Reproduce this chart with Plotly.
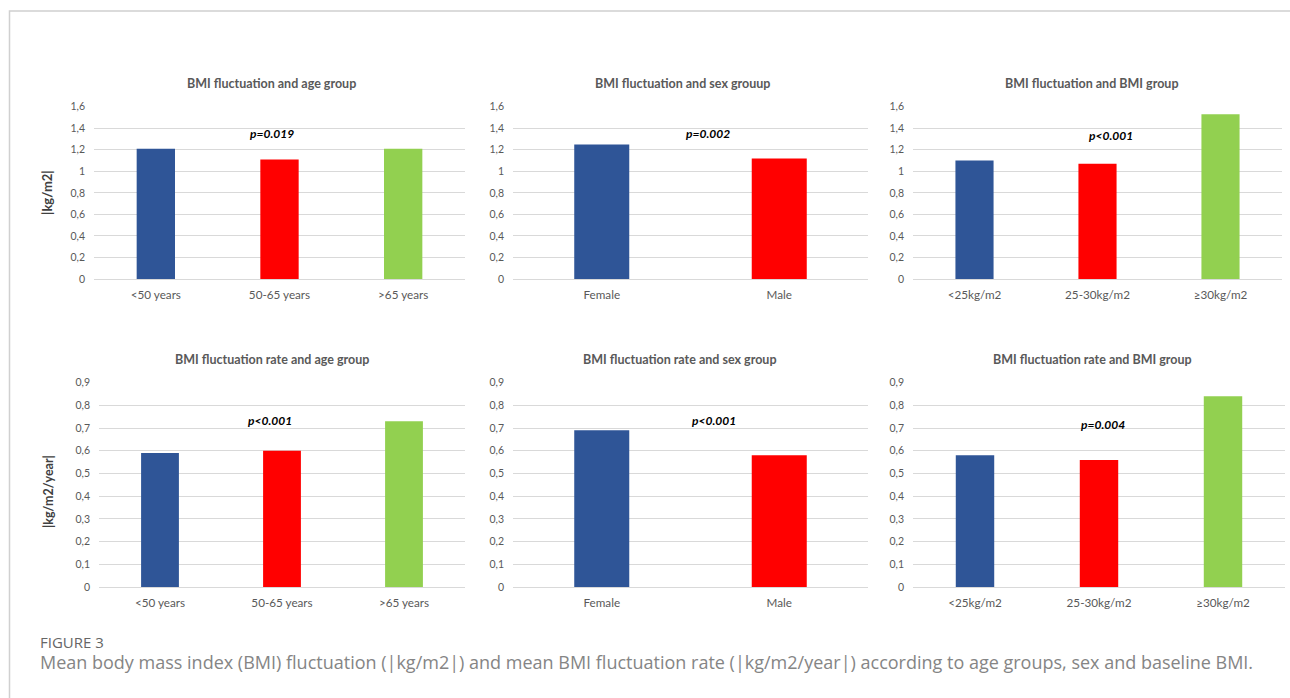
import plotly.graph_objects as go

# ---- data ----
age_groups = ["<50 years", "50-65 years", ">65 years"]
sex_groups = ["Female", "Male"]
bmi_groups = ["<25kg/m2", "25-30kg/m2", "≥30kg/m2"]

fluct_age = [1.21, 1.11, 1.21]
fluct_sex = [1.25, 1.12]
fluct_bmi = [1.10, 1.07, 1.53]
rate_age = [0.59, 0.60, 0.73]
rate_sex = [0.69, 0.58]
rate_bmi = [0.58, 0.56, 0.84]

fluct_ticks = [0, 0.2, 0.4, 0.6, 0.8, 1.0, 1.2, 1.4, 1.6]
fluct_ticktext = ["0", "0,2", "0,4", "0,6", "0,8", "1", "1,2", "1,4", "1,6"]
rate_ticks = [0, 0.1, 0.2, 0.3, 0.4, 0.5, 0.6, 0.7, 0.8, 0.9]
rate_ticktext = ["0", "0,1", "0,2", "0,3", "0,4", "0,5", "0,6", "0,7", "0,8", "0,9"]

titles = ["BMI fluctuation and age group", "BMI fluctuation and sex grouup",
          "BMI fluctuation and BMI group", "BMI fluctuation rate and age group",
          "BMI fluctuation rate and sex group", "BMI fluctuation rate and BMI group"]
p_values = ["p=0.019", "p=0.002", "p<0.001", "p<0.001", "p<0.001", "p=0.004"]
y_titles = ["|kg/m2|", "|kg/m2/year|"]
caption_label = "FIGURE 3"
caption_text = ("Mean body mass index (BMI) fluctuation (|kg/m2|) and mean BMI fluctuation rate "
                "(|kg/m2/year|) according to age groups, sex and baseline BMI.")

# ---- styling ----
W, H = 1290, 698
BLUE, RED, GREEN = "#2F5597", "#FF0000", "#92D050"
GRID = "#D9D9D9"
TXT = "#595959"
FONT = "Lato, Open Sans, sans-serif"

def px(x):
    return x / W

def py(y):
    return 1 - y / H

panels = [
    # cats, values, colors, x-domain(px), row
    (age_groups, fluct_age, [BLUE, RED, GREEN], (94, 465), 0),
    (sex_groups, fluct_sex, [BLUE, RED], (513, 868), 0),
    (bmi_groups, fluct_bmi, [BLUE, RED, GREEN], (913, 1282), 0),
    (age_groups, rate_age, [BLUE, RED, GREEN], (99, 465), 1),
    (sex_groups, rate_sex, [BLUE, RED], (513, 868), 1),
    (bmi_groups, rate_bmi, [BLUE, RED, GREEN], (913, 1285), 1),
]
row_y = [(279, 106.7), (587, 382.7)]  # (bottom px, top px)
p_pos = [(0.94, 1.35), (0.60, 1.355), (1.11, 1.33), (0.90, 0.733), (0.63, 0.733), (1.03, 0.718)]
title_x = [271, 682, 1092, 272, 680, 1092]
title_y = [84, 359]

fig = go.Figure()
layout = dict(
    width=W, height=H, margin=dict(l=0, r=0, t=0, b=0, pad=0, autoexpand=False),
    paper_bgcolor="white", plot_bgcolor="white", bargap=0.69,
    showlegend=False, font=dict(family=FONT, color=TXT, size=11),
)
annotations = []
for i, (cats, vals, cols, (x0, x1), row) in enumerate(panels):
    n = i + 1
    xa = "x" if n == 1 else f"x{n}"
    ya = "y" if n == 1 else f"y{n}"
    fig.add_trace(go.Bar(x=cats, y=vals, marker=dict(color=cols, line=dict(width=0)),
                         xaxis=xa, yaxis=ya, hoverinfo="x+y"))
    yb, yt = row_y[row]
    layout["xaxis" if n == 1 else f"xaxis{n}"] = dict(
        domain=[px(x0), px(x1)], anchor=ya, showgrid=False, showline=False,
        zeroline=False, ticks="", tickfont=dict(size=11.7, color=TXT, family=FONT),
        ticklabelstandoff=7, fixedrange=True, automargin=False,
    )
    tv, tt = (fluct_ticks, fluct_ticktext) if row == 0 else (rate_ticks, rate_ticktext)
    layout["yaxis" if n == 1 else f"yaxis{n}"] = dict(
        domain=[py(yb), py(yt)], anchor=xa, range=[0, tv[-1]],
        tickvals=tv, ticktext=tt, showgrid=True, gridcolor=GRID, gridwidth=1,
        zeroline=True, zerolinecolor=GRID, zerolinewidth=1, showline=False,
        ticks="", tickfont=dict(size=10.5, color=TXT, family=FONT),
        ticklabelstandoff=8, fixedrange=True, automargin=False,
    )
    annotations.append(dict(
        text=f"<b><i>{p_values[i]}</i></b>", x=p_pos[i][0], y=p_pos[i][1],
        xref=xa, yref=ya, showarrow=False, xanchor="center", yanchor="middle",
        font=dict(size=12, color="#000000", family=FONT),
    ))
    annotations.append(dict(
        text=f"<b>{titles[i]}</b>", x=px(title_x[i]), y=py(title_y[row]),
        xref="paper", yref="paper", showarrow=False, xanchor="center", yanchor="middle",
        font=dict(size=12.5, color=TXT, family=FONT),
    ))

annotations.append(dict(text=f"<b>{y_titles[0]}</b>", x=px(47), y=py(193), xref="paper", yref="paper",
                        showarrow=False, textangle=-90, xanchor="center", yanchor="middle",
                        font=dict(size=13, color="#404040", family=FONT)))
annotations.append(dict(text=f"<b>{y_titles[1]}</b>", x=px(48), y=py(492), xref="paper", yref="paper",
                        showarrow=False, textangle=-90, xanchor="center", yanchor="middle",
                        font=dict(size=12.5, color="#404040", family=FONT)))
annotations.append(dict(text=caption_label, x=px(38), y=py(642), xref="paper", yref="paper",
                        xanchor="left", yanchor="middle", showarrow=False,
                        font=dict(size=15, color="#666666", family="Open Sans, sans-serif")))
annotations.append(dict(text=caption_text, x=px(38), y=py(662), xref="paper", yref="paper",
                        xanchor="left", yanchor="middle", showarrow=False,
                        font=dict(size=18, color="#858585", family="Open Sans, sans-serif")))
layout["annotations"] = annotations
layout["shapes"] = [dict(
    type="path", xref="paper", yref="paper",
    path=f"M {px(9.5)} 0 L {px(9.5)} {py(11)} L 1 {py(11)}",
    line=dict(color="#D0D0D0", width=1.5),
)]
fig.update_layout(**layout)
fig.write_html("out.html")
